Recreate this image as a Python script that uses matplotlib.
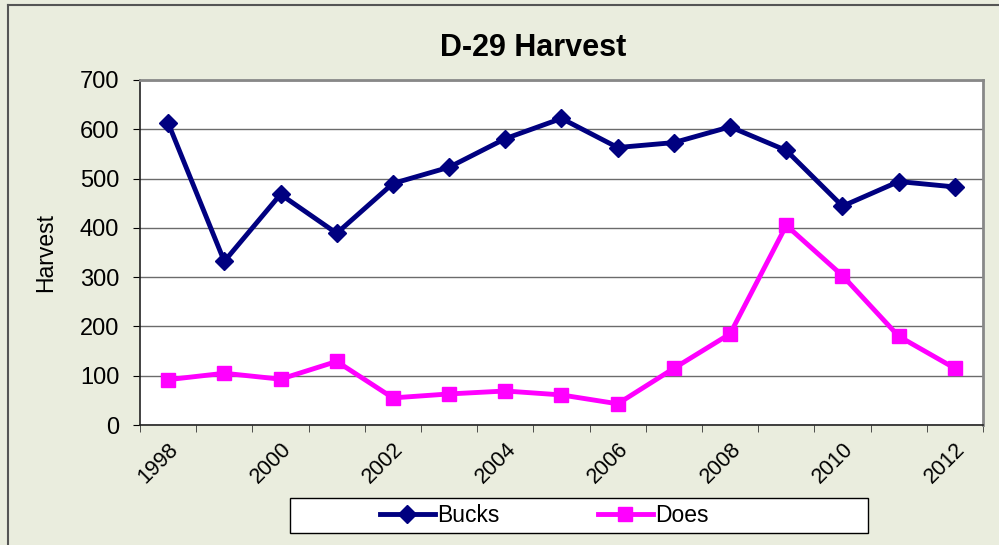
import matplotlib.pyplot as plt
from matplotlib.patches import Rectangle

plt.rcParams["font.family"] = ["Liberation Sans", "DejaVu Sans"]

# data
years = list(range(1998, 2013))
bucks = [613, 332, 468, 389, 490, 523, 581, 622, 563, 573, 605, 557, 444, 494, 483]
does = [92, 105, 93, 129, 55, 63, 69, 61, 43, 115, 185, 405, 303, 180, 115]
year_labels = ["1998", "2000", "2002", "2004", "2006", "2008", "2010", "2012"]

bg = "#EAEDDE"
fig = plt.figure(figsize=(9.99, 5.45), dpi=100, facecolor=bg)

# outer chart border (top and left edges visible)
fig.add_artist(plt.Line2D([8 / 999, 8 / 999], [0, 1 - 5 / 545],
                          transform=fig.transFigure, color="#555555", lw=1.5))
fig.add_artist(plt.Line2D([8 / 999, 1], [1 - 5 / 545, 1 - 5 / 545],
                          transform=fig.transFigure, color="#555555", lw=1.5))

ax = fig.add_axes([140 / 999, 120 / 545, 843 / 999, 345 / 545])
ax.set_facecolor("white")

x = list(range(len(years)))
ax.plot(x, bucks, color="#000080", lw=3.5, marker="D", markersize=9, label="Bucks")
ax.plot(x, does, color="#FF00FF", lw=3.5, marker="s", markersize=10, label="Does")

ax.set_xlim(-0.5, len(years) - 0.5)
ax.set_ylim(0, 700)
ax.set_yticks(range(0, 701, 100))
ax.yaxis.grid(True, color="#6b6b6b", lw=1)
ax.set_axisbelow(True)

# category labels every other year, tick marks between categories
ax.set_xticks([years.index(int(y)) for y in year_labels])
ax.set_xticklabels(year_labels, rotation=45, ha="right", rotation_mode="anchor")
ax.set_xticks([i - 0.5 for i in range(len(years) + 1)], minor=True)
ax.tick_params(axis="x", which="major", length=0, pad=10, labelsize=15.5)
ax.tick_params(axis="x", which="minor", length=5, direction="out", color="#333333")
ax.tick_params(axis="y", length=5, direction="out", labelsize=17, pad=10)

for side in ["left", "bottom"]:
    ax.spines[side].set_color("#222222")
    ax.spines[side].set_linewidth(1.2)
for side in ["top", "right"]:
    ax.spines[side].set_color("#888888")
    ax.spines[side].set_linewidth(2)

ax.set_ylabel("Harvest", fontsize=16.5, labelpad=16)

fig.text(533 / 999, 1 - 48 / 545, "D-29 Harvest", fontsize=22, fontweight="bold",
         ha="center", va="center")

# legend box
fig.add_artist(Rectangle((290 / 999, 12 / 545), 578 / 999, 35 / 545,
                         transform=fig.transFigure, facecolor="white",
                         edgecolor="black", lw=1))
fig.legend(loc="center", bbox_to_anchor=(544 / 999, 29.5 / 545), ncol=2,
           frameon=False, fontsize=16.5, handlelength=2.4, handletextpad=0.1,
           columnspacing=4.3)

fig.savefig("out.png", dpi=100, facecolor=bg)
